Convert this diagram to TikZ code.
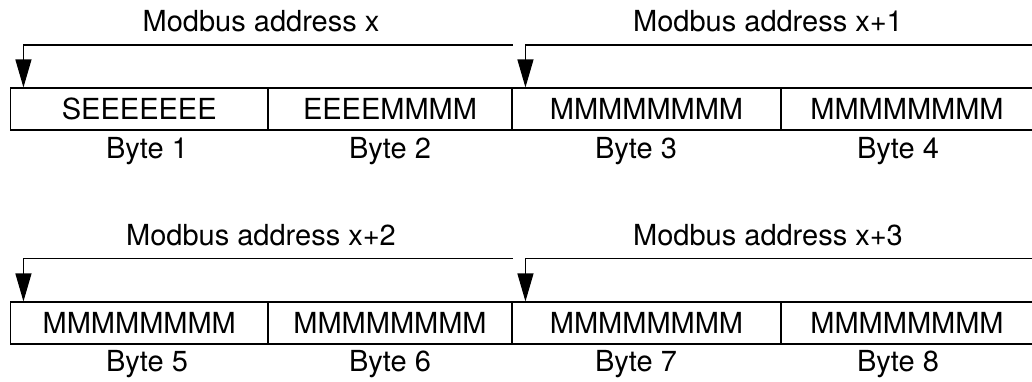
\documentclass[tikz,border=0pt]{standalone}
\usepackage{fontspec}
\setmainfont{TeX Gyre Heros}
\usetikzlibrary{arrows.meta}
\tikzset{cell/.style={draw, line width=1.1pt, minimum height=42pt, inner sep=0pt,
   font=\fontsize{29}{34}\selectfont},
 lbl/.style={anchor=base, inner sep=0pt, font=\fontsize{29}{34}\selectfont},
 addr/.style={draw, line width=1.1pt, -{Triangle[length=28pt,width=16pt]}},
 }
\begin{document}
\begin{tikzpicture}[x=1pt,y=1pt]
        \useasboundingbox (0,0) rectangle (1032,-381);
        \node[cell, minimum width=257.5pt] (b1) at (139.25,-109) {SEEEEEEE};
        \node[cell, minimum width=244pt] (b2) at (390,-109) {EEEEMMMM};
        \node[cell, minimum width=269pt] (b3) at (646.5,-109) {MMMMMMMM};
        \node[cell, minimum width=252pt] (b4) at (907,-109) {MMMMMMMM};
        \node[cell, minimum width=257.5pt] (b5) at (139.25,-323) {MMMMMMMM};
        \node[cell, minimum width=244pt] (b6) at (390,-323) {MMMMMMMM};
        \node[cell, minimum width=269pt] (b7) at (646.5,-323) {MMMMMMMM};
        \node[cell, minimum width=252pt] (b8) at (907,-323) {MMMMMMMM};
        \node[lbl] (t1) at (147,-158) {Byte 1};
        \node[lbl] (t2) at (390,-158) {Byte 2};
        \node[lbl] (t3) at (636,-158) {Byte 3};
        \node[lbl] (t4) at (898,-158) {Byte 4};
        \node[lbl] (t5) at (147,-371.7) {Byte 5};
        \node[lbl] (t6) at (390,-371.7) {Byte 6};
        \node[lbl] (t7) at (636,-371.7) {Byte 7};
        \node[lbl] (t8) at (898,-371.7) {Byte 8};
        \node[lbl] (m1) at (261,-31.5) {Modbus address x};
        \node[lbl] (m2) at (768,-31.5) {Modbus address x+1};
        \node[lbl] (m3) at (261,-245) {Modbus address x+2};
        \node[lbl] (m4) at (768,-245) {Modbus address x+3};
        \coordinate (a1) at (512.7,-45);
        \coordinate (a2) at (1032,-45);
        \coordinate (a3) at (512.7,-258.3);
        \coordinate (a4) at (1032,-258.3);
        \draw[addr] (a1) -| ([xshift=13.5pt]b1.north west);
        \draw[addr] (a2) -| ([xshift=14pt]b3.north west);
        \draw[addr] (a3) -| ([xshift=13.5pt]b5.north west);
        \draw[addr] (a4) -| ([xshift=14pt]b7.north west);
    \end{tikzpicture}
\end{document}
